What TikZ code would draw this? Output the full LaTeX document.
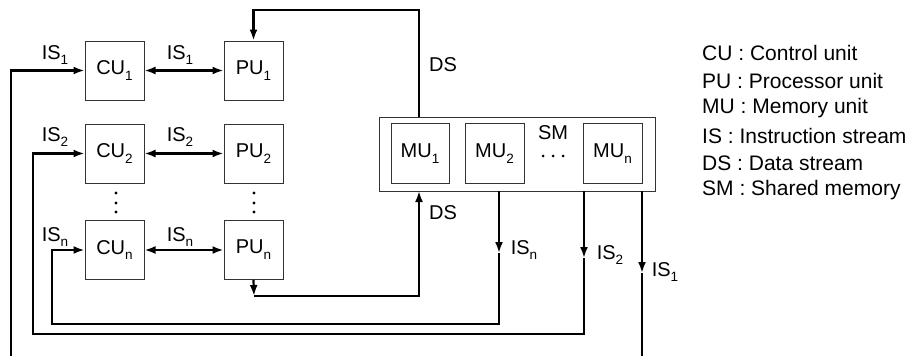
\documentclass[tikz,border=0pt]{standalone}
\usepackage{fontspec}
\setmainfont{Liberation Sans}
\usetikzlibrary{arrows.meta}
\newcommand{\sbs}[1]{\raisebox{-0.55ex}{\fontsize{13.5}{13.5}\selectfont #1}}
\begin{document}
\begin{tikzpicture}[x=1pt,y=-1pt,
  every node/.style={font=\fontsize{20}{20}\selectfont},
  unit/.style={draw=black!80, line width=1pt, minimum width=59pt, minimum height=59pt, inner sep=0pt},
  conn/.style={line width=2.2pt, line join=miter},
  tip/.style={-{Latex[length=11pt,width=8pt]}},
  dtip/.style={{Latex[length=11pt,width=8pt]}-{Latex[length=11pt,width=8pt]}},
  lbl/.style={inner sep=0pt, anchor=center},
  legend/.style={anchor=west, inner sep=0pt, font=\fontsize{21}{21}\selectfont}]
\useasboundingbox (0,0) rectangle (914,356);

% units
\node[unit] (cu1) at (114.5,70.5) {CU\sbs{1}};
\node[unit] (pu1) at (253.5,70.5) {PU\sbs{1}};
\node[unit] (cu2) at (114.5,153.5) {CU\sbs{2}};
\node[unit] (pu2) at (253.5,153.5) {PU\sbs{2}};
\node[unit] (cun) at (114.5,250) {CU\sbs{n}};
\node[unit] (pun) at (253.5,250) {PU\sbs{n}};

% vertical dots
\foreach \y in {193,203,212}{
  \fill (116,\y) circle (1.6pt);
  \fill (254,\y) circle (1.6pt);
}

% shared memory
\node[draw=black!80, line width=1pt, minimum width=276pt, minimum height=74pt, inner sep=0pt] (sm) at (517,154) {};
\node[unit, minimum width=58pt, minimum height=60pt] (mu1) at (420,153.5) {MU\sbs{1}};
\node[unit, minimum width=59pt, minimum height=60pt] (mu2) at (494.5,153.5) {MU\sbs{2}};
\node[unit, minimum width=59pt, minimum height=60pt] (mun) at (612.5,153.5) {MU\sbs{n}};
\node[lbl] (smlbl) at (553,133) {SM};
\foreach \x in {543,553,563}{ \fill (\x,156) circle (1.5pt); }

% CU <-> PU
\draw[conn,dtip] (cu1) -- (pu1);
\draw[conn,dtip] (cu2) -- (pu2);
\draw[conn,dtip] (cun) -- (pun);
\node[lbl] at (180,55) {IS\sbs{1}};
\node[lbl] at (180,137) {IS\sbs{2}};
\node[lbl] at (180,237) {IS\sbs{n}};
\node[lbl] at (55,55) {IS\sbs{1}};
\node[lbl] at (55,137) {IS\sbs{2}};
\node[lbl] at (55,237) {IS\sbs{n}};

% DS top: SM -> PU1
\coordinate (dsa) at (419,117);
\draw[conn,tip] (dsa) -- (419,10) -| (pu1.north);
\node[lbl] at (443,65) {DS};

% DS bottom: PUn -> SM
\coordinate (dsb) at (419,191);
\coordinate (pc) at (254,296);
\draw[conn,tip] (pun.south) -- (pc);
\draw[conn,tip] (pc) -- (419,296) -- (dsb);
\node[lbl] at (443,213) {DS};

% IS_n: SM -> CUn
\coordinate (isna) at (499,191);
\coordinate (isnm) at (499,253);
\draw[conn,tip] (isna) -- (isnm);
\draw[conn,tip] (isnm) -- (499,324) -- (52,324) |- (cun.west);
\node[lbl] at (524,250) {IS\sbs{n}};

% IS_2: SM -> CU2
\coordinate (is2a) at (584,191);
\coordinate (is2m) at (584,258);
\draw[conn,tip] (is2a) -- (is2m);
\draw[conn,tip] (is2m) -- (584,334) -- (33,334) |- (cu2.west);
\node[lbl] at (610,255) {IS\sbs{2}};

% IS_1: SM -> CU1
\coordinate (is1a) at (642,191);
\coordinate (is1m) at (642,273);
\coordinate (is1e) at (642,356);
\coordinate (is1s) at (11,356);
\draw[conn,tip] (is1a) -- (is1m);
\draw[conn] (is1m) -- (is1e);
\draw[conn,tip] (is1s) |- (cu1.west);
\node[lbl] at (665,272) {IS\sbs{1}};

% legend
\node[legend] at (702,53) {CU : Control unit};
\node[legend] at (702,80.5) {PU : Processor unit};
\node[legend] at (702,108) {MU : Memory unit};
\node[legend] at (702,135.5) {IS : Instruction stream};
\node[legend] at (702,163) {DS : Data stream};
\node[legend] at (702,190.5) {SM : Shared memory};
\end{tikzpicture}
\end{document}
